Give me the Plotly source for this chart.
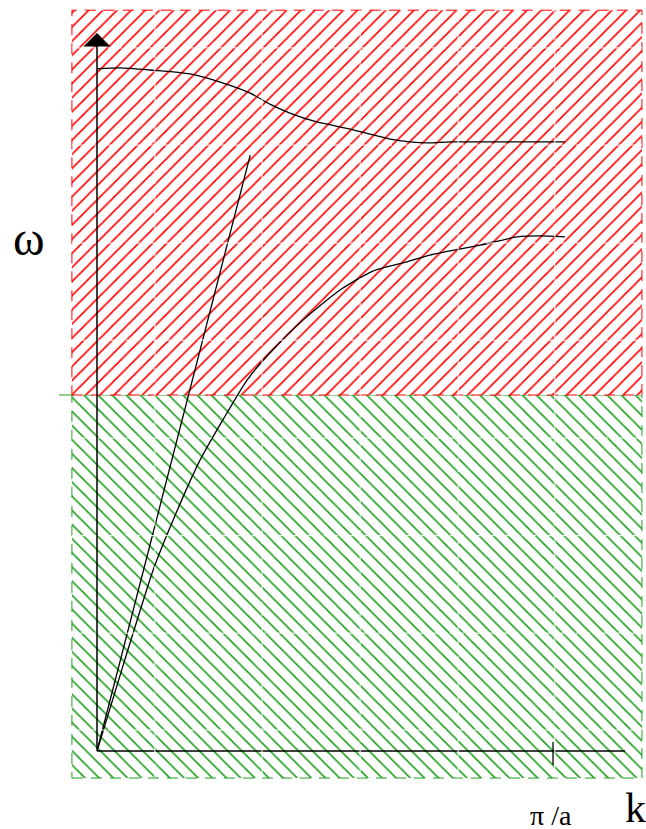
import plotly.graph_objects as go

# ---- data (k in units of pi/a, omega in units of the band edge) ----
k_optical = [0, 0.050, 0.116, 0.204, 0.270, 0.336, 0.379, 0.423, 0.482, 0.555,
             0.643, 0.686, 0.726, 0.774, 0.884, 1.026]
w_optical = [1.916, 1.919, 1.913, 1.902, 1.879, 1.848, 1.817, 1.792, 1.767, 1.747,
             1.719, 1.711, 1.708, 1.711, 1.711, 1.711]

k_acoustic = [0, 0.061, 0.123, 0.167, 0.226, 0.276, 0.329, 0.379, 0.452, 0.533,
              0.605, 0.680, 0.730, 0.840, 0.921, 0.971, 1.026]
w_acoustic = [0, 0.256, 0.508, 0.649, 0.817, 0.930, 1.042, 1.118, 1.211, 1.295,
              1.348, 1.374, 1.393, 1.421, 1.444, 1.447, 1.444]

k_light = [0, 0.336]
w_light = [0, 1.674]

# band regions
band_k = [-0.055, 1.195]
upper_band = [1.0, 2.081]
lower_band = [-0.076, 1.0]

x_label = "k"
y_label = "ω"
tick_label = "π /a"

fig = go.Figure()

def rect(xr, yr, shape, color):
    fig.add_trace(go.Scatter(
        x=[xr[0], xr[1], xr[1], xr[0], xr[0]],
        y=[yr[0], yr[0], yr[1], yr[1], yr[0]],
        mode="lines", fill="toself",
        line=dict(color=color, width=1, dash="11px,8px"),
        fillpattern=dict(shape=shape, fgcolor=color, bgcolor="white",
                         size=10, solidity=0.16, fgopacity=1),
        hoverinfo="skip", showlegend=False))

rect(band_k, lower_band, "\\", "#22a022")
rect(band_k, upper_band, "/", "#ff0000")

# faint white seams in the hatching
shapes = []
for xv in [0.127, 0.362, 0.577, 0.792, 1.004]:
    shapes.append(dict(type="line", xref="x", yref="y", x0=xv, x1=xv,
                       y0=lower_band[0], y1=upper_band[1], layer="above",
                       line=dict(color="white", width=1, dash="14px,4px")))
for yv in [1.975, 1.702, 1.427, 1.154, 0.879, 0.605, 0.331, 0.059]:
    shapes.append(dict(type="line", xref="x", yref="y", x0=band_k[0], x1=band_k[1],
                       y0=yv, y1=yv, layer="above",
                       line=dict(color="white", width=1, dash="14px,4px")))
# boundary line extension to the left
shapes.append(dict(type="line", xref="x", yref="y", x0=-0.083, x1=band_k[0],
                   y0=1.0, y1=1.0, layer="above",
                   line=dict(color="#22a022", width=1)))
fig.update_layout(shapes=shapes)

black = "black"
# x axis line
fig.add_trace(go.Scatter(x=[0, 1.158], y=[0, 0], mode="lines",
                         line=dict(color=black, width=1.3), hoverinfo="skip", showlegend=False))
# tick at pi/a
fig.add_trace(go.Scatter(x=[1, 1], y=[0.025, -0.039], mode="lines",
                         line=dict(color=black, width=1.3), hoverinfo="skip", showlegend=False))
# curves
for kx, wy in [(k_optical, w_optical), (k_acoustic, w_acoustic), (k_light, w_light)]:
    fig.add_trace(go.Scatter(x=kx, y=wy, mode="lines",
                             line=dict(color=black, width=1.3, shape="spline", smoothing=0.6),
                             hoverinfo="skip", showlegend=False))

# y axis with arrow
fig.add_annotation(x=0, y=2.017, ax=0, ay=0, xref="x", yref="y", axref="x", ayref="y",
                   showarrow=True, arrowhead=1, arrowsize=3, arrowwidth=1.5,
                   arrowcolor=black, text="")

font = "Liberation Serif, Times New Roman, serif"
fig.add_annotation(x=-0.150, y=1.441, text=y_label, showarrow=False,
                   font=dict(family=font, size=48, color=black))
fig.add_annotation(x=0.995, y=-0.180, text=tick_label, showarrow=False,
                   height=26, valign="middle",
                   font=dict(family=font, size=28, color=black))
fig.add_annotation(x=1.180, y=-0.160, text=x_label, showarrow=False,
                   height=34, valign="middle",
                   font=dict(family=font, size=42, color=black))

fig.update_layout(
    width=646, height=829,
    margin=dict(l=0, r=0, t=0, b=0),
    paper_bgcolor="white", plot_bgcolor="white",
    xaxis=dict(range=[-0.2127, 1.2039], visible=False, fixedrange=True),
    yaxis=dict(range=[-0.2191, 2.1096], visible=False, fixedrange=True),
    showlegend=False,
)

fig.write_html("out.html",
               config={"displayModeBar": False, "staticPlot": True},
               post_script="document.body.style.margin='0';"
                           "document.body.style.overflow='hidden';")
